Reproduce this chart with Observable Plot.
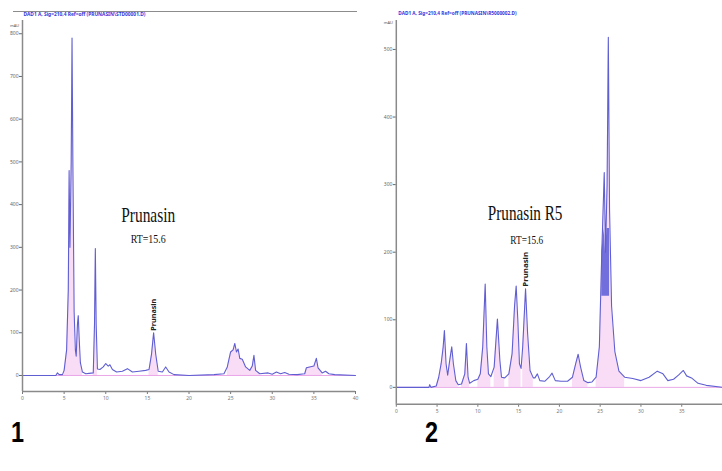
<!DOCTYPE html>
<html><head><meta charset="utf-8">
<script src="https://cdn.jsdelivr.net/npm/d3@7"></script>
<script src="https://cdn.jsdelivr.net/npm/@observablehq/plot@0.6"></script>
<style>
body{margin:0;background:#fff;overflow:hidden;width:722px;height:471px;position:relative;font-family:"Liberation Sans",sans-serif}
#p1{position:absolute;left:0;top:0}
#p2{position:absolute;left:360px;top:0}
.hline{position:absolute;left:13px;top:11px;width:344px;height:0;border-top:1.5px solid #8c8c8c}
.lab{position:absolute;font-family:"Liberation Sans",sans-serif;font-weight:bold;font-size:30px;line-height:30px;color:#000;transform:scaleX(0.78);transform-origin:left top}
</style></head><body>
<div id="p1"></div><div id="p2"></div>
<div class="hline"></div>
<div class="lab" style="left:11px;top:417px">1</div>
<div class="lab" style="left:425px;top:417px">2</div>
<script>
// ---------- data ----------
const xTicks = [0,5,10,15,20,25,30,35,40];
const xTicks2Labels = [0,5,10,15,20,25,30,35];
const yTicks1 = [0,100,200,300,400,500,600,700,800];
const yTicks2 = [0,100,200,300,400,500];
const header1 = "DAD1 A, Sig=210,4 Ref=off (PRUNASIN\\STD00001.D)";
const header2 = "DAD1 A, Sig=210,4 Ref=off (PRUNASIN\\R5000002.D)";

// chromatogram 1 (retention time in min, signal in mAU)
const time1 = [0,4.0,4.2,4.4,4.8,5.0,5.3,5.5,5.6,5.7,5.85,5.95,6.05,6.2,6.35,6.45,6.6,6.7,6.8,6.95,7.2,7.6,8.0,8.5,8.65,8.75,8.85,9.0,9.3,9.7,10.0,10.3,10.5,10.8,11.3,12.0,12.6,13.2,14.0,14.8,15.2,15.5,15.75,16.0,16.3,16.8,17.2,17.6,18.2,20,23,24.2,24.6,25.0,25.3,25.5,25.7,25.9,26.1,26.4,26.8,27.3,27.6,27.8,28.0,28.5,29.5,30.0,30.5,31.0,31.5,32.0,33.0,33.9,34.1,34.5,35.0,35.3,35.5,36.0,36.4,36.8,37.5,40];
const signal1 = [0,0,6,2,2,12,60,200,480,300,500,790,500,150,60,45,120,140,90,30,8,4,5,6,120,297,120,15,14,20,28,22,25,14,8,10,16,8,10,12,14,50,100,50,10,8,20,8,2,0,2,4,20,55,60,75,55,62,40,38,20,12,22,47,12,4,6,3,8,4,7,3,2,4,18,20,22,40,18,6,10,4,2,0];
const ranges1 = [[4.9,7.2],[8.5,9.0],[15.2,16.3],[24.4,28.5],[33.9,36.0]];

// chromatogram 2
const time2 = [0,4.0,4.1,4.25,4.9,5.2,5.5,5.75,5.9,6.1,6.3,6.55,6.8,7.0,7.3,7.6,8.0,8.4,8.6,8.8,9.0,9.5,10.0,10.3,10.6,10.9,11.1,11.3,11.6,12.0,12.4,12.7,12.9,13.3,13.8,14.2,14.5,14.7,14.9,15.1,15.3,15.5,15.85,16.1,16.4,16.8,17.0,17.3,17.6,18.2,18.8,19.1,19.5,20.2,21.0,21.6,22.0,22.3,22.6,23.0,23.5,24.0,24.5,24.9,25.2,25.5,25.65,25.85,26.0,26.15,26.4,26.8,27.3,28.0,29.0,30.0,31.0,32.0,32.7,33.3,34.0,34.6,35.2,35.6,36.2,37.0,38.0,40];
const signal2 = [0,0,4,0,2,15,35,60,84,35,18,40,60,35,10,4,5,20,65,15,6,10,12,20,60,153,60,20,16,30,101,40,15,14,20,50,120,150,100,35,28,60,146,80,25,14,14,20,10,9,16,21,10,9,9,15,35,49,30,10,7,8,15,60,200,318,200,300,518,263,120,53,24,15,13,10,15,24,20,10,12,18,25,17,14,6,3,0];
const ranges2 = [[4.9,7.6],[8.0,9.0],[10.0,11.6],[11.6,13.3],[13.8,15.3],[15.3,16.8],[21.6,23.5],[24.5,28.0]];
const overlap2 = [25.1, 26.2];  // co-eluting region shaded in blue
const overlapBase2 = 135;

const peakLabel1 = [{t:15.75, v:100, text:"Prunasin"}];
const peakLabel2 = [{t:15.85, v:146, text:"Prunasin"}];
const title1 = [{t:15.1, v:375, text:"Prunasin"}, {t:15.1, v:318, text:"RT=15.6"}];
const title2 = [{t:15.8, v:258, text:"Prunasin R5"}, {t:16.0, v:218, text:"RT=15.6"}];

// ---------- helpers ----------
const tag = (t, v, ranges) => t.map((tt,i)=>({t:tt, v:v[i], seg: ranges.findIndex(r=>tt>=r[0]&&tt<=r[1])}));
const d1 = tag(time1, signal1, ranges1);
const d2 = tag(time2, signal2, ranges2);

const LINE = "#5f5fd2", PINK = "#f9dcf6", PINKLINE = "#eaa6e8", AXIS = "#8a8a8a";

function fit(svg, cls, lengths){
  d3.select(svg).selectAll("g." + cls + " text").each(function(d,i){
    if (lengths[i]) { this.setAttribute("textLength", lengths[i]); this.setAttribute("lengthAdjust","spacingAndGlyphs"); }
  });
}

// ---------- panel 1 ----------
const p1 = Plot.plot({
  width: 360, height: 410,
  marginLeft: 22, marginRight: 5, marginTop: 20, marginBottom: 19,
  x: {domain: [0,40]},
  y: {domain: [-37.5, 831]},
  marks: [
    Plot.areaY(d1.filter(d=>d.seg>=0), {x:"t", y1:0, y2:"v", z:"seg", fill:PINK, curve:"linear"}),
    Plot.ruleY([0], {stroke:PINKLINE, strokeWidth:1}),
    Plot.line(d1, {x:"t", y:"v", stroke:LINE, strokeWidth:1.1}),
    Plot.axisY(yTicks1, {anchor:"left", tickSize:3, tickPadding:1, fontSize:5, color:"#666", label:null}),
    Plot.axisX(xTicks, {anchor:"bottom", tickSize:3, tickPadding:2, fontSize:5, color:"#777", label:null}),
    Plot.ruleX([0], {stroke:AXIS, strokeWidth:1.5}),
    Plot.ruleY([-37.5], {stroke:AXIS, strokeWidth:1.5}),
    Plot.text([header1], {frameAnchor:"top-left", dx:1, dy:-9, fontSize:6, fontWeight:"bold", fill:"#3434dc", textAnchor:"start", className:"hdr1"}),
    Plot.text(["mAU"], {frameAnchor:"top-left", dx:-8, dy:4, fontSize:4, fill:"#555", textAnchor:"middle"}),
    Plot.text(title1, {x:"t", y:"v", text:"text", fontFamily:"Liberation Serif", fontSize:d=>d.text==="Prunasin"?21:12, fill:"#111", className:"ttl1"}),
    Plot.text(peakLabel1, {x:"t", y:"v", text:"text", rotate:-90, textAnchor:"start", dx:0, dy:-2, fontSize:7, fontWeight:"bold", fill:"#222", className:"pk1"})
  ]
});
document.getElementById("p1").appendChild(p1);
fit(p1, "hdr1", [122]);
fit(p1, "ttl1", [54, 35]);
fit(p1, "pk1", [32]);

// ---------- panel 2 ----------
const p2 = Plot.plot({
  width: 364, height: 420,
  marginLeft: 36, marginRight: 0, marginTop: 20, marginBottom: 14,
  x: {domain: [0,40]},
  y: {domain: [-25, 543]},
  marks: [
    Plot.areaY(d2.filter(d=>d.seg>=0), {x:"t", y1:0, y2:"v", z:"seg", fill:PINK, curve:"linear"}),
    Plot.areaY(d2.filter(d=>d.t>=overlap2[0] && d.t<=overlap2[1]), {x:"t", y1:overlapBase2, y2:d=>Math.max(overlapBase2, Math.min(d.v, 235)), fill:"#5a5ad6", fillOpacity:0.85}),
    Plot.ruleY([0], {stroke:PINKLINE, strokeWidth:1}),
    Plot.line(d2, {x:"t", y:"v", stroke:LINE, strokeWidth:1.1}),
    Plot.axisY(yTicks2, {anchor:"left", tickSize:3, tickPadding:1, fontSize:5, color:"#666", label:null}),
    Plot.axisX(xTicks2Labels, {anchor:"bottom", tickSize:3, tickPadding:2, fontSize:5, color:"#777", label:null}),
    Plot.ruleX(xTicks.filter(t=>!xTicks2Labels.includes(t)), {y1:-25, y2:-29.4, stroke:"#777", strokeWidth:1}),
    Plot.ruleX([0], {stroke:AXIS, strokeWidth:1.5}),
    Plot.ruleY([-25], {stroke:AXIS, strokeWidth:1.5}),
    Plot.text([header2], {frameAnchor:"top-left", dx:2, dy:-10, fontSize:6, fontWeight:"bold", fill:"#3434dc", textAnchor:"start", className:"hdr2"}),
    Plot.text(["mAU"], {frameAnchor:"top-left", dx:-8, dy:1, fontSize:4, fill:"#555", textAnchor:"middle"}),
    Plot.text(title2, {x:"t", y:"v", text:"text", fontFamily:"Liberation Serif", fontSize:d=>d.text==="Prunasin R5"?21:12, fill:"#111", className:"ttl2"}),
    Plot.text(peakLabel2, {x:"t", y:"v", text:"text", rotate:-90, textAnchor:"start", dx:0, dy:-2, fontSize:7, fontWeight:"bold", fill:"#222", className:"pk2"})
  ]
});
document.getElementById("p2").appendChild(p2);
fit(p2, "hdr2", [119]);
fit(p2, "ttl2", [75, 33]);
fit(p2, "pk2", [35]);
</script>
</body></html>
